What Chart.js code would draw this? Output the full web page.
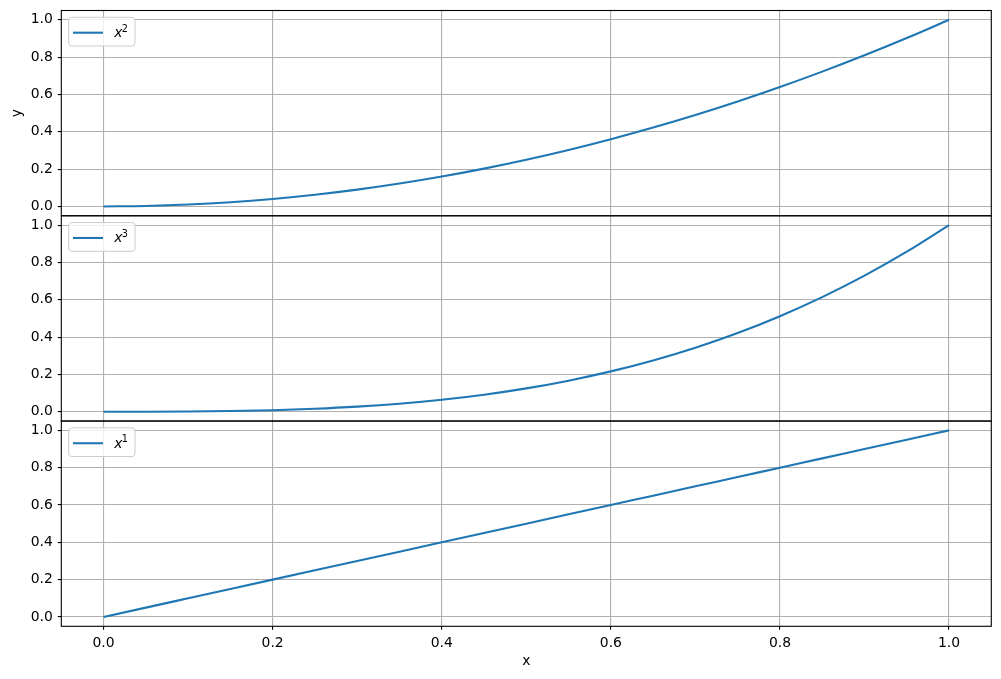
<!DOCTYPE html>
<html>
<head>
<meta charset="utf-8">
<script src="https://cdn.jsdelivr.net/npm/chart.js@4/dist/chart.umd.min.js"></script>
<style>
  html, body { margin: 0; padding: 0; background: #fff; }
  #wrap { position: relative; width: 1001px; height: 679px; }
</style>
</head>
<body>
<div id="wrap"><canvas id="chart"></canvas></div>
<script>
// x samples shared by the three panels
const xValues = [0, 0.05, 0.1, 0.15, 0.2, 0.25, 0.3, 0.35, 0.4, 0.45, 0.5,
  0.55, 0.6, 0.65, 0.7, 0.75, 0.8, 0.85, 0.9, 0.95, 1.0];
// top panel
const squareValues = [0, 0.0025, 0.01, 0.0225, 0.04, 0.0625, 0.09, 0.1225, 0.16, 0.2025, 0.25,
  0.3025, 0.36, 0.4225, 0.49, 0.5625, 0.64, 0.7225, 0.81, 0.9025, 1.0];
// middle panel
const cubeValues = [0, 0.000125, 0.001, 0.003375, 0.008, 0.015625, 0.027, 0.042875, 0.064, 0.091125, 0.125,
  0.166375, 0.216, 0.274625, 0.343, 0.421875, 0.512, 0.614125, 0.729, 0.857375, 1.0];
// bottom panel
const linearValues = [0, 0.05, 0.1, 0.15, 0.2, 0.25, 0.3, 0.35, 0.4, 0.45, 0.5,
  0.55, 0.6, 0.65, 0.7, 0.75, 0.8, 0.85, 0.9, 0.95, 1.0];
const legendBase = 'x';
const exponents = [2, 3, 1]; // top, middle, bottom
const xTicks = [0, 0.2, 0.4, 0.6, 0.8, 1.0];
const yTicks = [0, 0.2, 0.4, 0.6, 0.8, 1.0];
const xTitle = 'x';
const yTitle = 'y';

const BLUE = '#1f77b4';
const GRID = '#b0b0b0';
const FONT = 'DejaVu Sans';
const FS = 13.9;

function pts(ys) {
  return xValues.map((x, i) => ({ x: x, y: ys[i] }));
}

function noPad(s) {
  s.paddingTop = 0; s.paddingBottom = 0; s.paddingLeft = 0; s.paddingRight = 0;
}

function yScale(title) {
  return {
    type: 'linear',
    position: 'left',
    stack: 'panels',
    stackWeight: 1,
    min: -0.05,
    max: 1.05,
    afterBuildTicks: s => { s.ticks = yTicks.map(v => ({ value: v })); },
    afterFit: s => { s.width = 53.3; noPad(s); },
    grid: { color: GRID, lineWidth: 1.1, tickColor: '#000', tickWidth: 1.1, tickLength: 3.5 },
    border: { display: false },
    ticks: {
      color: '#000', padding: 5, font: { family: FONT, size: FS },
      callback: v => v.toFixed(1)
    },
    title: {
      display: !!title, text: title || '', color: '#000',
      font: { family: FONT, size: FS }, padding: { top: 0.7, bottom: 0 }
    }
  };
}

function dataset(ys, axis) {
  return {
    data: pts(ys),
    yAxisID: axis,
    borderColor: BLUE,
    borderWidth: 2.1,
    pointRadius: 0,
    cubicInterpolationMode: 'monotone',
    fill: false
  };
}

const panelAxes = ['yTop', 'yMid', 'yBot'];

const framePlugin = {
  id: 'frames',
  afterDatasetsDraw(chart) {
    const ctx = chart.ctx;
    const area = chart.chartArea;
    panelAxes.forEach((id, i) => {
      const s = chart.scales[id];
      // legend
      const bx = area.left + 7.4, by = s.top + 6.8, bw = 66.3, bh = 28.7;
      ctx.save();
      ctx.beginPath();
      ctx.roundRect(bx, by, bw, bh, 3);
      ctx.fillStyle = 'rgba(255,255,255,0.8)';
      ctx.fill();
      ctx.strokeStyle = '#cccccc';
      ctx.lineWidth = 1;
      ctx.stroke();
      ctx.beginPath();
      ctx.moveTo(bx + 4.3, by + 15.4);
      ctx.lineTo(bx + 34.3, by + 15.4);
      ctx.strokeStyle = BLUE;
      ctx.lineWidth = 2.1;
      ctx.stroke();
      ctx.fillStyle = '#000';
      ctx.textBaseline = 'alphabetic';
      ctx.textAlign = 'left';
      ctx.font = 'italic ' + FS + 'px "' + FONT + '"';
      ctx.fillText(legendBase, bx + 45.6, by + 19.7);
      ctx.font = '9.7px "' + FONT + '"';
      ctx.fillText(String(exponents[i]), bx + 53, by + 14.4);
      // panel frame
      ctx.strokeStyle = '#000';
      ctx.lineWidth = 1.1;
      ctx.strokeRect(area.left, s.top, area.right - area.left, s.bottom - s.top);
      ctx.restore();
    });
  }
};

new Chart(document.getElementById('chart'), {
  type: 'line',
  data: {
    datasets: [
      dataset(squareValues, 'yTop'),
      dataset(cubeValues, 'yMid'),
      dataset(linearValues, 'yBot')
    ]
  },
  options: {
    responsive: true,
    maintainAspectRatio: false,
    animation: false,
    layout: { padding: { left: 8, right: 9.7, top: 10.5, bottom: 0 } },
    plugins: { legend: { display: false }, tooltip: { enabled: false } },
    scales: {
      x: {
        type: 'linear',
        position: 'bottom',
        min: -0.05,
        max: 1.05,
        afterBuildTicks: s => { s.ticks = xTicks.map(v => ({ value: v })); },
        afterFit: s => { s.height = 52.7; noPad(s); },
        grid: { color: GRID, lineWidth: 1.1, tickColor: '#000', tickWidth: 1.1, tickLength: 3.5 },
        border: { display: false },
        ticks: {
          color: '#000', padding: 5, maxRotation: 0, font: { family: FONT, size: FS },
          callback: v => v.toFixed(1)
        },
        title: {
          display: true, text: xTitle, color: '#000',
          font: { family: FONT, size: FS }, padding: { top: 0, bottom: 9.7 }
        }
      },
      yBot: yScale(null),
      yMid: yScale(null),
      yTop: yScale(yTitle)
    }
  },
  plugins: [framePlugin]
});
</script>
</body>
</html>
